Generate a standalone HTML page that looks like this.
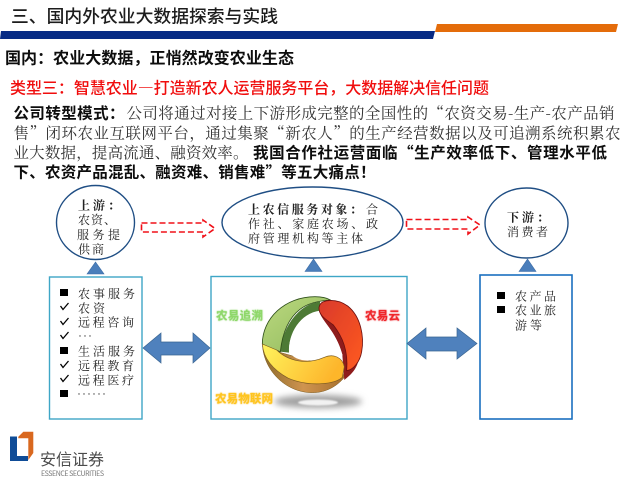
<!DOCTYPE html>
<html lang="zh">
<head>
<meta charset="utf-8">
<style>
html,body{margin:0;padding:0;background:#fff;width:640px;height:480px;overflow:hidden}
svg{display:block}
.sans{font-family:"Noto Sans CJK SC","Liberation Sans",sans-serif}
.serif{font-family:"Noto Serif CJK SC","Liberation Serif",serif}
.d{font-family:"Noto Serif CJK SC","Liberation Serif",serif;font-size:12px;fill:#222}
</style>
</head>
<body>
<svg width="640" height="480" viewBox="0 0 640 480" xmlns="http://www.w3.org/2000/svg">
<defs>
<linearGradient id="gGreen" x1="0" y1="0" x2="1" y2="1"><stop offset="0" stop-color="#bcd97f"/><stop offset="1" stop-color="#8fb95c"/></linearGradient>
<linearGradient id="gRed" x1="0" y1="0" x2="1" y2="1"><stop offset="0" stop-color="#d93a2c"/><stop offset="1" stop-color="#ff5a1f"/></linearGradient>
<linearGradient id="gYel" x1="0" y1="0" x2="1" y2="0.3"><stop offset="0" stop-color="#fff45c"/><stop offset="1" stop-color="#fdb62c"/></linearGradient>
<linearGradient id="gBrown" x1="0" y1="0" x2="1" y2="0"><stop offset="0" stop-color="#8d6a2a"/><stop offset="0.5" stop-color="#cf9450"/><stop offset="1" stop-color="#a8702c"/></linearGradient>
<filter id="b1" x="-30%" y="-100%" width="160%" height="300%"><feGaussianBlur stdDeviation="3.2"/></filter>
<filter id="s" x="-5%" y="-5%" width="110%" height="110%"><feGaussianBlur stdDeviation="0.25"/></filter>
<filter id="g" x="-20%" y="-40%" width="140%" height="180%"><feGaussianBlur stdDeviation="0.7"/></filter>
</defs>

<!-- header -->
<polygon points="1,31 435,31 433,39 0,39" fill="#072b85"/>
<polygon points="437,24 618,24 616,32 435,32" fill="#e46c0a"/>

<g filter="url(#s)">
<text class="sans" x="11" y="22.5" font-size="17.8" font-weight="500" fill="#1c1c1c" textLength="267">三、国内外农业大数据探索与实践</text>
<text class="sans" x="5" y="63.5" font-size="16" font-weight="700" fill="#111" textLength="289">国内&#xFF1A;农业大数据&#xFF0C;正悄然改变农业生态</text>
<text class="sans" x="10" y="93.5" font-size="16" font-weight="500" fill="#f01010" textLength="479">类型三&#xFF1A;智慧农业—打造新农人运营服务平台&#xFF0C;大数据解决信任问题</text>

<text class="sans" x="13.5" y="118.5" font-size="15.5" font-weight="700" fill="#111" textLength="111">公司转型模式&#xFF1A;</text>
<text class="serif" x="126.5" y="118.5" font-size="15.5" fill="#333" textLength="488">公司将通过对接上下游形成完整的全国性的“农资交易-生产-农产品销</text>
<text class="serif" x="13.5" y="138.5" font-size="15.5" fill="#333" textLength="607">售”闭环农业互联网平台&#xFF0C;通过集聚“新农人”的生产经营数据以及可追溯系统积累农</text>
<text class="serif" x="13.5" y="158" font-size="15.5" fill="#333" textLength="235">业大数据&#xFF0C;提高流通、融资效率。</text>
<text class="sans" x="253" y="158" font-size="15.5" font-weight="700" fill="#111" textLength="354">我国合作社运营面临“生产效率低下、管理水平低</text>
<text class="sans" x="13.5" y="177.5" font-size="15.5" font-weight="700" fill="#111" textLength="362">下、农资产品混乱、融资难、销售难”等五大痛点&#xFF01;</text>
</g>

<!-- ellipses -->
<ellipse cx="95.5" cy="222.5" rx="39" ry="37" fill="#fff" stroke="#1f4e84" stroke-width="1.4"/>
<ellipse cx="312.5" cy="222.5" rx="90.5" ry="35.5" fill="#fff" stroke="#1f4e84" stroke-width="1.4"/>
<ellipse cx="526.5" cy="223" rx="41.5" ry="35" fill="#fff" stroke="#1f4e84" stroke-width="1.4"/>

<!-- triangles -->
<polygon points="87,274 95.5,262 104,274" fill="#4a7ebb" stroke="#3a6ba5" stroke-width="0.6"/>
<polygon points="305,271.5 313.5,259 322,271.5" fill="#4a7ebb" stroke="#3a6ba5" stroke-width="0.6"/>
<polygon points="519,271.5 527.5,259 536,271.5" fill="#4a7ebb" stroke="#3a6ba5" stroke-width="0.6"/>

<!-- boxes -->
<rect x="49.5" y="277" width="92.5" height="142" fill="#fff" stroke="#3ea6c6" stroke-width="1.4"/>
<rect x="211" y="276.5" width="196" height="142.5" fill="#fff" stroke="#3ea6c6" stroke-width="1.4"/>
<rect x="480" y="275" width="92" height="144" fill="#fff" stroke="#1a70c0" stroke-width="1.6"/>

<!-- double arrows -->
<polygon points="143,348 161,333 161,342 193,342 193,333 210,348 193,363 193,355 161,355 161,363" fill="#4f81bd" stroke="#3a6591" stroke-width="0.7"/>
<polygon points="407,343.5 426,328 426,337 457,337 457,328 477,343.5 457,359 457,351 426,351 426,359" fill="#4f81bd" stroke="#3a6591" stroke-width="0.7"/>

<!-- dashed arrows -->
<polygon points="141.5,223 203,223 203,220 215,228.5 203,237 203,232 141.5,232" fill="#fff" stroke="#f01018" stroke-width="1.6" stroke-dasharray="6,3"/>
<polygon points="406.5,219.5 468,219.5 468,217 480,225 468,234 468,229 406.5,229" fill="#fff" stroke="#f01018" stroke-width="1.6" stroke-dasharray="6,3"/>

<!-- circle texts -->
<g filter="url(#s)">
<text class="d" x="78" y="209.5" font-weight="700" fill="#111" textLength="42">上游&#xFF1A;</text>
<text class="d" x="78" y="224" textLength="38">农资、</text>
<text class="d" x="77" y="239" textLength="43">服务提</text>
<text class="d" x="78" y="253.5" textLength="26">供商</text>

<text class="d" x="248" y="213.5" font-weight="700" fill="#111" textLength="114">上农信服务对象&#xFF1A;</text>
<text class="d" x="366" y="213.5">合</text>
<text class="d" x="248" y="228" textLength="130">作社、家庭农场、政</text>
<text class="d" x="248" y="242.5" textLength="115">府管理机构等主体</text>

<text class="d" x="507" y="221.5" font-weight="700" fill="#111" textLength="42">下游&#xFF1A;</text>
<text class="d" x="507" y="236" textLength="41">消费者</text>

<!-- left list -->
<g fill="#000">
<rect x="60" y="289" width="8" height="7"/>
<rect x="60" y="347" width="8" height="7"/>
<rect x="60" y="390" width="8" height="7"/>
</g>
<g fill="none" stroke="#000" stroke-width="1.3">
<path d="M60.5,306 L63,309.5 L68.5,303"/>
<path d="M60.5,321 L63,324.5 L68.5,318"/>
<path d="M60.5,335 L63,338.5 L68.5,332"/>
<path d="M60.5,364 L63,367.5 L68.5,361"/>
<path d="M60.5,378 L63,381.5 L68.5,375"/>
</g>
<text class="d" x="78" y="298" textLength="57">农事服务</text>
<text class="d" x="78" y="312.5" textLength="27">农资</text>
<text class="d" x="78" y="326.5" textLength="56">远程咨询</text>
<g fill="#444"><circle cx="80" cy="336" r=".7"/><circle cx="85" cy="336" r=".7"/><circle cx="90" cy="336" r=".7"/>
<circle cx="79" cy="394" r=".7"/><circle cx="84" cy="394" r=".7"/><circle cx="89" cy="394" r=".7"/><circle cx="94" cy="394" r=".7"/><circle cx="99" cy="394" r=".7"/><circle cx="104" cy="394" r=".7"/></g>
<text class="d" x="78" y="355.5" textLength="57">生活服务</text>
<text class="d" x="78" y="370" textLength="56">远程教育</text>
<text class="d" x="78" y="384.5" textLength="56">远程医疗</text>

<!-- right list -->
<rect x="497" y="292" width="8" height="7" fill="#000"/>
<rect x="497" y="306" width="8" height="7" fill="#000"/>
<text class="d" x="515" y="300.5" textLength="41">农产品</text>
<text class="d" x="515" y="314.5" textLength="41">农业旅</text>
<text class="d" x="515" y="329.5" textLength="27">游等</text>
</g>

<!-- donut -->
<ellipse cx="318" cy="401.5" rx="44" ry="6.5" fill="#a0a0a0" filter="url(#b1)"/>
<ellipse cx="318" cy="402.5" rx="20" ry="3" fill="#f2f2f2" filter="url(#g)"/>
<g transform="translate(205 270) scale(0.33333)" filter="url(#s)">
  <path d="M172,222 C176,305 245,368 322,368 C362,368 395,350 418,322 L412,300 L200,240 Z" fill="url(#gBrown)" stroke="#7a5a20" stroke-width="1.5"/>
  <path d="M342,118 C344,150 392,178 412,255 L418,330 C440,312 458,295 462,262 L440,140 L360,100 Z" fill="#8e1d1d"/>
  <path d="M225,245 L252,248 C250,190 285,130 345,122 L345,95 C290,100 235,160 225,245 Z" fill="#4e7a34"/>
  <path d="M252,246 C250,190 285,132 343,124 C345,150 392,178 413,256 C395,250 375,252 355,262 C310,280 270,272 252,246 Z" fill="#fff"/>
  <path d="M172,222 C172,145 240,80 330,80 C350,80 365,83 376,90 C345,92 310,98 285,118 C250,145 232,190 226,245 C210,240 190,232 172,222 Z" fill="url(#gGreen)" stroke="#2f4f1c" stroke-width="2.5"/>
  <path d="M172,222 L215,240 C250,274 305,285 358,262 C385,250 412,262 418,290 L412,322 C385,345 310,350 250,325 C205,300 175,265 172,222 Z" fill="url(#gYel)" stroke="#7a5a20" stroke-width="2"/>
  <path d="M344,106 C350,88 395,84 428,108 C468,140 478,200 470,245 C465,275 445,300 425,302 C430,240 412,200 385,165 C362,148 340,135 342,112 Z" fill="url(#gRed)" stroke="#6e1010" stroke-width="2.5"/>
</g>
<g class="sans" font-weight="700" font-size="11.5" filter="url(#g)">
<text x="216" y="319.5" fill="#7fd05a" textLength="47">农易追溯</text>
<text x="215" y="402.5" fill="#f7b20e" textLength="58">农易物联网</text>
<text x="365" y="319.5" fill="#e8232a" textLength="35">农易云</text>
</g>
<g class="sans" font-weight="700" font-size="11.5" filter="url(#s)">
<text x="216" y="319.5" fill="#8fd86a" textLength="47">农易追溯</text>
<text x="215" y="402.5" fill="#ffc51e" textLength="58">农易物联网</text>
<text x="365" y="319.5" fill="#f0262c" textLength="35">农易云</text>
</g>

<!-- logo -->
<polygon points="10,436.5 17,436.5 17,456 28,456 28,461 10,461" fill="#0f4c97"/>
<polygon points="18.3,436.7 23.3,431.7 33.3,431.7 33.3,453 28.3,460 28.3,438.3 18.3,438.3" fill="#d9681f"/>
<g filter="url(#s)">
<text class="sans" x="40" y="465" font-size="16" fill="#4c4c4c" textLength="64">安信证券</text>
<text class="sans" x="41" y="476" font-size="7" fill="#777" textLength="63">ESSENCE SECURITIES</text>
</g>
</svg>
</body>
</html>
